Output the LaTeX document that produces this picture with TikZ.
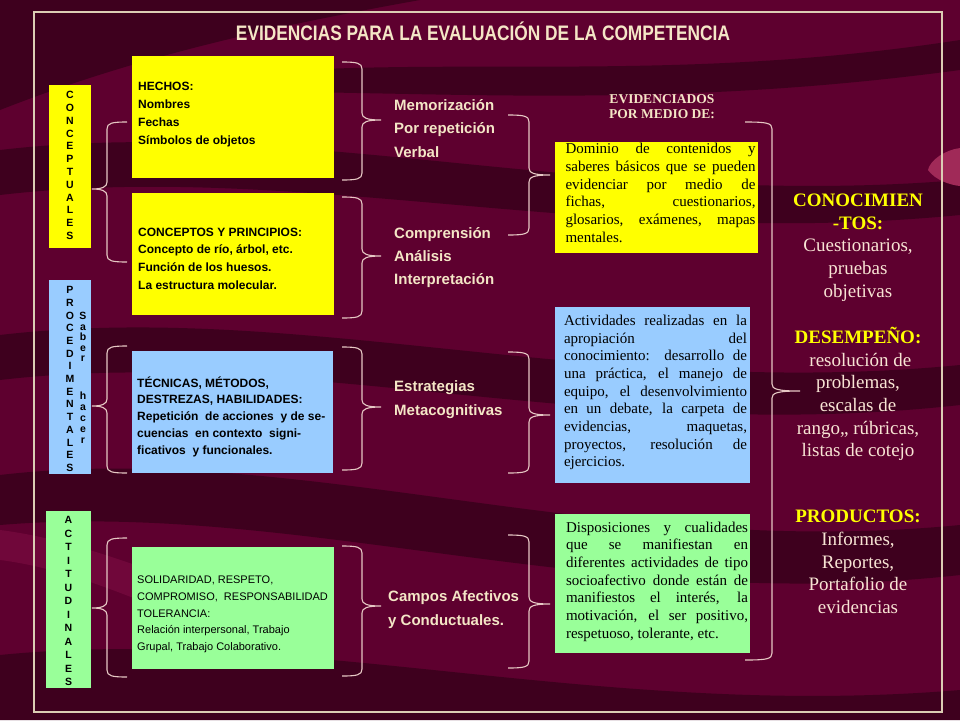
\documentclass[tikz,border=0pt]{standalone}
\usepackage{fontspec}
\setmainfont{Liberation Serif}
\newfontfamily\arialf{Liberation Sans}
\usepackage{graphicx}
\definecolor{bgbase}{HTML}{5E002F}
\definecolor{bgdark}{HTML}{3E001E}
\definecolor{bglite}{HTML}{70073A}
\definecolor{bgspot}{HTML}{A02A58}
\definecolor{yel}{HTML}{FFFF00}
\definecolor{blu}{HTML}{99CCFF}
\definecolor{grn}{HTML}{99FF99}
\definecolor{cream}{HTML}{F4E6C6}
\definecolor{peach}{HTML}{F8E4D4}
\definecolor{brcol}{HTML}{E6C8C4}
\definecolor{framecol}{HTML}{DCCDB4}
\newcommand\jl[2]{\makebox[#1pt][s]{#2}}
\newcommand\BrR[6]{\draw[brc] (#5,#2) .. controls (#1-5,#2) and (#1,#2+1) .. (#1,#2+7) -- (#1,#3-7) .. controls (#1,#3-2) and (#1+5,#3) .. (#6,#3) .. controls (#1+5,#3) and (#1,#3+2) .. (#1,#3+7) -- (#1,#4-7) .. controls (#1,#4-1) and (#1-5,#4) .. (#5,#4);}
\newcommand\BrL[6]{\draw[brc] (#5,#2) .. controls (#1+5,#2) and (#1,#2+1) .. (#1,#2+7) -- (#1,#3-7) .. controls (#1,#3-2) and (#1-5,#3) .. (#6,#3) .. controls (#1-5,#3) and (#1,#3+2) .. (#1,#3+7) -- (#1,#4-7) .. controls (#1,#4-1) and (#1+5,#4) .. (#5,#4);}
\begin{document}
\begin{tikzpicture}[x=1pt,y=-1pt,
  box/.style={draw=none,inner sep=0,outer sep=0,anchor=north west},
  brc/.style={draw=brcol,line width=1.1pt},
  frame/.style={draw=framecol,line width=1.4pt},
  lbl/.style={font=\arialf\bfseries\fontsize{10.5}{12.8}\selectfont,align=center,inner sep=0,text=black},
  boxtxt/.style={anchor=west,align=left,inner sep=0,text=black},
  midtxt/.style={anchor=west,align=left,inner sep=0,text=cream,font=\arialf\bfseries\fontsize{15}{23.3}\selectfont},
  jtxt/.style={align=left,inner sep=0,text=black,font=\fontsize{15}{17.7}\selectfont},
  fartxt/.style={align=center,inner sep=0,text=peach,font=\fontsize{19}{22.7}\selectfont}
]
\useasboundingbox (0,0) rectangle (960,720);
% background
\fill[bgbase] (0,0) rectangle (960,720);
\fill[bgdark] (0,0) -- (420,0) .. controls (280,25) and (140,55) .. (0,110) -- cycle;
\fill[bgdark] (300,70) .. controls (500,60) and (700,80) .. (960,40) -- (960,70) .. controls (700,105) and (500,95) .. (300,92) -- cycle;
\fill[bgdark] (0,150) .. controls (300,115) and (600,210) .. (960,180) -- (960,215) .. controls (600,250) and (300,160) .. (0,195) -- cycle;
\fill[bgdark] (0,335) .. controls (300,300) and (600,400) .. (960,365) -- (960,405) .. controls (600,445) and (300,345) .. (0,380) -- cycle;
\fill[bgdark] (0,475) .. controls (300,440) and (600,560) .. (960,525) -- (960,575) .. controls (600,615) and (300,500) .. (0,525) -- cycle;
\fill[bgdark] (0,655) .. controls (300,625) and (600,720) .. (960,690) -- (960,720) -- (0,720) -- cycle;
\fill[bglite] (0,560) .. controls (80,570) and (160,610) .. (260,650) -- (260,610) .. controls (160,575) and (80,540) .. (0,530) -- cycle;
\fill[bgspot] (960,148) .. controls (945,150) and (930,160) .. (928,170) .. controls (935,180) and (950,185) .. (960,186) -- cycle;
\draw[frame] (34,12) rectangle (942,712);

% title
\node[font=\arialf\bfseries\fontsize{21}{24}\selectfont,text=cream,inner sep=0] (title) at (483,31) {\scalebox{0.825}[1]{EVIDENCIAS PARA LA EVALUACIÓN DE LA COMPETENCIA}};

% left label boxes
\node[box,fill=yel,minimum width=42,minimum height=163] (lconc) at (49,85) {};
\node[box,fill=blu,minimum width=42,minimum height=194] (lproc) at (49,280) {};
\node[box,fill=grn,minimum width=45,minimum height=177] (lact) at (46,511) {};
\node[lbl] (tconc) at (70,165.5) {C\\O\\N\\C\\E\\P\\T\\U\\A\\L\\E\\S};
\node[lbl,font=\arialf\bfseries\fontsize{10.5}{12.7}\selectfont] (tproc) at (70,379) {P\\R\\O\\C\\E\\D\\I\\M\\E\\N\\T\\A\\L\\E\\S};
\node[lbl,font=\arialf\bfseries\fontsize{10.5}{10.5}\selectfont] (tsab) at (83,337) {S\\a\\b\\e\\r};
\node[lbl,font=\arialf\bfseries\fontsize{10.5}{11}\selectfont] (thac) at (83,418) {h\\a\\c\\e\\r};
\node[lbl,font=\arialf\bfseries\fontsize{10.5}{13.5}\selectfont] (tact) at (68.5,601) {A\\C\\T\\I\\T\\U\\D\\I\\N\\A\\L\\E\\S};

% content boxes
\node[box,fill=yel,minimum width=202,minimum height=122] (hechos) at (132,56) {};
\node[box,fill=yel,minimum width=202,minimum height=122] (concep) at (132,193) {};
\node[box,fill=blu,minimum width=201,minimum height=122] (tecn) at (132,351) {};
\node[box,fill=grn,minimum width=202,minimum height=122] (solid) at (132,547) {};
\node[boxtxt,font=\arialf\bfseries\fontsize{12}{18}\selectfont] (thechos) at (138,115) {HECHOS:\\Nombres\\Fechas\\Símbolos de objetos};
\node[boxtxt,font=\arialf\bfseries\fontsize{12}{17.7}\selectfont] (tconcep) at (138,258.5) {CONCEPTOS Y PRINCIPIOS:\\Concepto de río, árbol, etc.\\Función de los huesos.\\La estructura molecular.};
\node[boxtxt,font=\arialf\bfseries\fontsize{12}{16.75}\selectfont] (ttecn) at (137,416.5) {TÉCNICAS, MÉTODOS,\\DESTREZAS, HABILIDADES:\\Repetición\ \ de acciones\ \ y de se-\\cuencias\ \ en contexto\ \ signi-\\ficativos\ \ y funcionales.};
\node[boxtxt,font=\arialf\fontsize{11}{16.75}\selectfont] (tsolid) at (137,614.5) {SOLIDARIDAD, RESPETO,\\COMPROMISO,\ \ RESPONSABILIDAD\\TOLERANCIA:\\Relación interpersonal, Trabajo\\Grupal, Trabajo Colaborativo.};

% middle texts
\node[midtxt] (memo) at (394,128.5) {Memorización\\Por repetición\\Verbal};
\node[midtxt] (compr) at (394,257.5) {Comprensión\\Análisis\\Interpretación};
\node[midtxt] (estr) at (394,399.5) {Estrategias\\Metacognitivas};
\node[midtxt] (campos) at (388,609.5) {Campos Afectivos\\y Conductuales.};

% header right
\node[font=\bfseries\fontsize{13.5}{15}\selectfont,text=cream,align=center,inner sep=0] (evid) at (662,106.5) {EVIDENCIADOS\\POR MEDIO DE:};

% right boxes
\node[box,fill=yel,minimum width=203,minimum height=111] (ryel) at (555,142) {};
\node[box,fill=blu,minimum width=195,minimum height=176] (rblu) at (555,307) {};
\node[box,fill=grn,minimum width=195,minimum height=139] (rgrn) at (555,514) {};
\node[jtxt] (tryel) at (660.5,193) {\jl{190}{Dominio de contenidos y}\\\jl{190}{saberes básicos que se pueden}\\\jl{190}{evidenciar por medio de}\\\jl{190}{fichas, cuestionarios,}\\\jl{190}{glosarios, exámenes, mapas}\\\makebox[190pt][l]{mentales.}};
\node[jtxt] (trblu) at (655.5,392.5) {\jl{183}{Actividades realizadas en la}\\\jl{183}{apropiación del}\\\jl{183}{conocimiento: desarrollo de}\\\jl{183}{una práctica, el manejo de}\\\jl{183}{equipo, el desenvolvimiento}\\\jl{183}{en un debate, la carpeta de}\\\jl{183}{evidencias, maquetas,}\\\jl{183}{proyectos, resolución de}\\\makebox[183pt][l]{ejercicios.}};
\node[jtxt] (trgrn) at (657,581.5) {\jl{182}{Disposiciones y cualidades}\\\jl{182}{que se manifiestan en}\\\jl{182}{diferentes actividades de tipo}\\\jl{182}{socioafectivo donde están de}\\\jl{182}{manifiestos el interés, la}\\\jl{182}{motivación, el ser positivo,}\\\makebox[182pt][l]{respetuoso, tolerante, etc.}};

% far right
\node[fartxt] (conoc) at (858,247.5) {\textcolor{yel}{\textbf{CONOCIMIEN}}\\\textcolor{yel}{\textbf{-TOS:}}\\Cuestionarios,\\pruebas\\objetivas};
\node[fartxt] (desem) at (858,394) {\textcolor{yel}{\textbf{DESEMPEÑO:}}\\\ resolución de\\problemas,\\escalas de\\rango,, rúbricas,\\listas de cotejo};
\node[fartxt] (prod) at (858,562) {\textcolor{yel}{\textbf{PRODUCTOS:}}\\Informes,\\Reportes,\\Portafolio de\\evidencias};

% braces: labels -> content boxes
\BrL{107}{122}{189}{262}{127}{92}
\BrL{107}{346}{406}{473}{127}{92}
\BrL{107}{538}{608}{677}{127}{92}
% braces: content boxes -> middle text
\BrR{362}{62}{120}{180}{342}{381}
\BrR{362}{197}{256}{318}{342}{381}
\BrR{362}{347}{407}{470}{342}{381}
\BrR{362}{546}{606}{676}{342}{381}
% braces: middle text -> right boxes
\BrR{529}{115}{175}{235}{508}{550}
\BrR{529}{352}{415}{473}{508}{550}
\BrR{529}{535}{604}{668}{508}{550}
% big brace
\BrR{772}{122}{391}{660}{745}{800}
\end{tikzpicture}
\end{document}
